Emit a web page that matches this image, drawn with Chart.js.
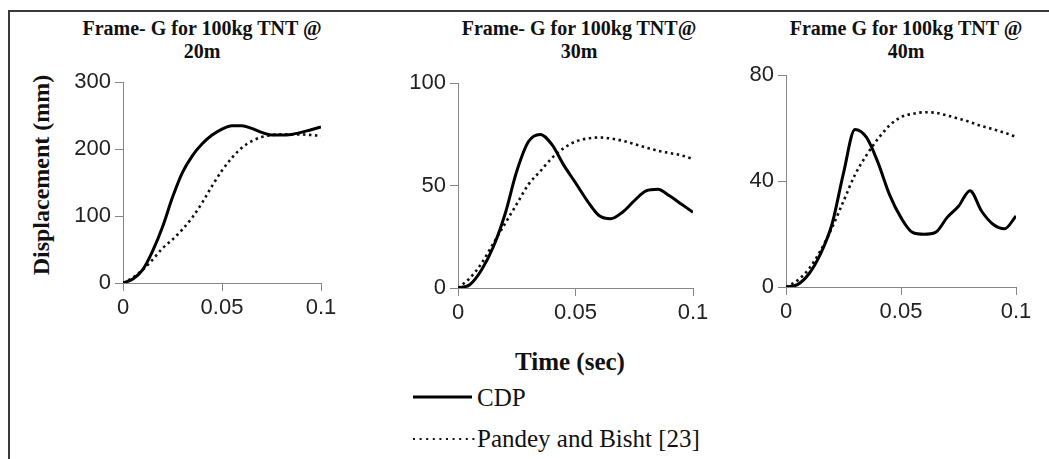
<!DOCTYPE html>
<html>
<head>
<meta charset="utf-8">
<script src="https://cdn.jsdelivr.net/npm/chart.js@4.4.1/dist/chart.umd.min.js"></script>
<style>
  html, body { margin: 0; padding: 0; background: #fff; }
  #wrap { position: relative; width: 1049px; height: 459px; overflow: hidden; background: #fff; }
  #frame { position: absolute; left: 8px; top: 10px; width: 1100px; height: 500px; border: 2px solid #3a3a3a; box-sizing: border-box; }
  canvas { position: absolute; }
  .title { position: absolute; width: 400px; text-align: center; font-family: "Liberation Serif", serif; font-weight: bold; font-size: 20px; line-height: 23px; color: #111; white-space: nowrap; }
  .txt { position: absolute; font-family: "Liberation Serif", serif; color: #111; white-space: nowrap; line-height: 1; }
</style>
</head>
<body>
<div id="wrap">
  <div id="frame"></div>
  <div class="title" style="left:2px; top:17px;">Frame- G for 100kg TNT @<br>20m</div>
  <div class="title" style="left:379px; top:17px;">Frame- G for 100kg TNT@<br>30m</div>
  <div class="title" style="left:706px; top:17px;">Frame G for 100kg TNT @<br>40m</div>
  <div class="txt" style="left:-109px; top:160px; width:300px; height:30px; line-height:30px; text-align:center; font-weight:bold; font-size:24px; transform:rotate(-90deg);">Displacement (mm)</div>
  <div class="txt" style="left:470px; top:349px; width:200px; text-align:center; font-weight:bold; font-size:25px;">Time (sec)</div>
  <svg style="position:absolute; left:410px; top:388px;" width="70" height="60">
    <line x1="3" y1="9" x2="62" y2="9" stroke="#000" stroke-width="3"/>
    <line x1="3" y1="51" x2="66" y2="51" stroke="#111" stroke-width="2" stroke-dasharray="2 4.6"/>
  </svg>
  <div class="txt" style="left:477px; top:385px; font-size:25px;">CDP</div>
  <div class="txt" style="left:477px; top:426px; font-size:25px;">Pandey and Bisht [23]</div>

  <canvas id="c1" width="283" height="263" style="left:63px; top:65px;"></canvas>
  <canvas id="c2" width="320" height="267" style="left:398px; top:66px;"></canvas>
  <canvas id="c3" width="315" height="274" style="left:726px; top:58px;"></canvas>
</div>
<script>
// ---- data ----
const timeSec = [0, 0.005, 0.01, 0.015, 0.02, 0.025, 0.03, 0.035, 0.04, 0.045, 0.05,
                 0.055, 0.06, 0.065, 0.07, 0.075, 0.08, 0.085, 0.09, 0.095, 0.1];

const cdp20 = [0, 6, 20, 48, 84, 128, 165, 190, 208, 221, 230, 235, 235, 231, 225, 221, 221, 222, 225, 229, 233];
const pandey20 = [0, 8, 20, 35, 52, 65, 80, 98, 120, 145, 168, 187, 202, 212, 218, 221, 222, 222, 222, 221, 220];

const cdp30 = [0, 1.6, 8.8, 20, 36, 57, 71.5, 75, 70, 60, 51.4, 42.6, 35.4, 33.8, 37, 42.6, 47.4, 48.2, 45, 41, 37];
const pandey30 = [0, 4.8, 12, 21.7, 31.4, 41, 50.6, 57, 63.5, 68.3, 71.5, 73, 73.5, 73, 71.9, 70.3, 68.6, 67, 65.9, 64.8, 63];

const cdp40 = [0, 0.9, 5, 12.5, 23.7, 43, 59.5, 56.5, 47, 34.9, 26.2, 20.6, 19.9, 20.6, 26.2, 30.5, 36.4, 28.7, 23.7, 22, 26.8];
const pandey40 = [0, 2.5, 6.9, 13.7, 22.4, 32.4, 42.4, 49.8, 56, 61, 64.2, 65.4, 66, 65.8, 64.8, 63.6, 62.3, 60.8, 59.6, 58.3, 56.7];

const xTickValues = [0, 0.05, 0.1];
const xTickLabels = ['0', '0.05', '0.1'];
const yTicks20 = [0, 100, 200, 300];
const yTicks30 = [0, 50, 100];
const yTicks40 = [0, 40, 80];

// ---- chart builder ----
const AXIS = '#868686';
const TICKFONT = { family: 'Liberation Sans', size: 22 };

function pts(arr) { return timeSec.map((t, i) => ({ x: t, y: arr[i] })); }

function makeChart(id, cdp, pandey, yTicks) {
  const ctx = document.getElementById(id);
  return new Chart(ctx, {
    type: 'line',
    data: {
      datasets: [
        { label: 'CDP', data: pts(cdp), borderColor: '#000', borderWidth: 3,
          pointRadius: 0, cubicInterpolationMode: 'monotone', fill: false },
        { label: 'Pandey and Bisht [23]', data: pts(pandey), borderColor: '#111', borderWidth: 2.6,
          borderDash: [2.5, 3.5], pointRadius: 0, cubicInterpolationMode: 'monotone', fill: false }
      ]
    },
    options: {
      responsive: false,
      animation: false,
      devicePixelRatio: 1,
      layout: { padding: { left: 0, right: 25, top: 15, bottom: 0 } },
      plugins: { legend: { display: false }, tooltip: { enabled: false }, title: { display: false } },
      scales: {
        x: {
          type: 'linear', min: 0, max: 0.1,
          afterBuildTicks: s => { s.ticks = xTickValues.map(v => ({ value: v })); },
          afterFit: s => { s.height = 45; },
          ticks: { callback: (v, i) => xTickLabels[i], font: TICKFONT, color: '#222',
                   padding: 4, maxRotation: 0, autoSkip: false },
          grid: { drawOnChartArea: false, drawTicks: true, tickLength: 8, color: AXIS },
          border: { display: true, color: AXIS, width: 1 }
        },
        y: {
          type: 'linear', min: 0, max: yTicks[yTicks.length - 1],
          afterBuildTicks: s => { s.ticks = yTicks.map(v => ({ value: v })); },
          afterFit: s => { s.width = 60; },
          ticks: { callback: (v, i) => String(yTicks[i]), font: TICKFONT, color: '#222',
                   padding: 4, autoSkip: false },
          grid: { drawOnChartArea: false, drawTicks: true, tickLength: 8, color: AXIS },
          border: { display: true, color: AXIS, width: 1 }
        }
      }
    }
  });
}

makeChart('c1', cdp20, pandey20, yTicks20);
makeChart('c2', cdp30, pandey30, yTicks30);
makeChart('c3', cdp40, pandey40, yTicks40);
</script>
</body>
</html>
